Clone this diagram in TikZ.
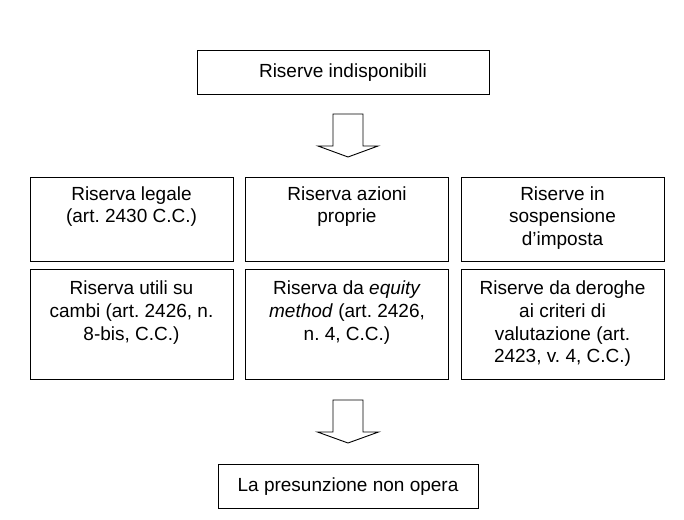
\documentclass[tikz,border=0pt]{standalone}
\usepackage{fontspec}
\setmainfont{Liberation Sans}
\frenchspacing
\begin{document}
\begin{tikzpicture}[x=1pt,y=-1pt,
  box/.style={draw=black,line width=0.9pt,inner sep=0pt,fill=white},
  txt/.style={inner sep=0pt,align=center,font=\frenchspacing\fontsize{19}{22.8}\selectfont},
  blockarrow/.style={draw=black,line width=0.9pt,fill=white,line join=miter}]
\useasboundingbox[fill=white] (0,0) rectangle (684,519);
% top box
\node[box,minimum width=292pt,minimum height=44pt] (top) at (343,72) {};
\node[txt] (topt) at ([yshift=-1pt]top.center) {Riserve indisponibili};
% row 1
\node[box,minimum width=203pt,minimum height=84pt] (a1) at (131.5,219) {};
\node[box,minimum width=203pt,minimum height=84pt] (a2) at (347,219) {};
\node[box,minimum width=203pt,minimum height=84pt] (a3) at (562.5,219) {};
\node[txt,anchor=north] (a1t) at ([yshift=-9.5pt]a1.north) {Riserva legale\\(art. 2430 C.C.)};
\node[txt,anchor=north] (a2t) at ([yshift=-9.5pt]a2.north) {Riserva azioni\\proprie};
\node[txt,anchor=north] (a3t) at ([yshift=-9.5pt]a3.north) {Riserve in\\sospensione\\d’imposta};
% row 2
\node[box,minimum width=203pt,minimum height=110pt] (b1) at (131.5,324) {};
\node[box,minimum width=203pt,minimum height=110pt] (b2) at (347,324) {};
\node[box,minimum width=203pt,minimum height=110pt] (b3) at (562.5,324) {};
\node[txt,anchor=north] (b1t) at ([yshift=-12pt]b1.north) {Riserva utili su\\cambi (art. 2426, n.\\8-bis, C.C.)};
\node[txt,anchor=north] (b2t) at ([yshift=-12pt]b2.north) {Riserva da \textit{equity}\\\textit{method} (art. 2426,\\n. 4, C.C.)};
\node[txt,anchor=north] (b3t) at ([yshift=-12pt]b3.north) {Riserve da deroghe\\ai criteri di\\valutazione (art.\\2423, v. 4, C.C.)};
% bottom box
\node[box,minimum width=260pt,minimum height=44pt] (bot) at (348,486) {};
\node[txt] (bott) at ([yshift=-1pt]bot.center) {La presunzione non opera};
% block arrows
\coordinate (ar1) at (348,114);
\draw[blockarrow] (ar1) ++(-15,0) -- ++(0,32) -- ++(-15,0) -- ++(30,11) -- ++(30,-11) -- ++(-15,0) -- ++(0,-32) -- cycle;
\coordinate (ar2) at (348,400);
\draw[blockarrow] (ar2) ++(-15,0) -- ++(0,32) -- ++(-15.5,0) -- ++(30.5,11) -- ++(30.5,-11) -- ++(-15.5,0) -- ++(0,-32) -- cycle;
\end{tikzpicture}
\end{document}
